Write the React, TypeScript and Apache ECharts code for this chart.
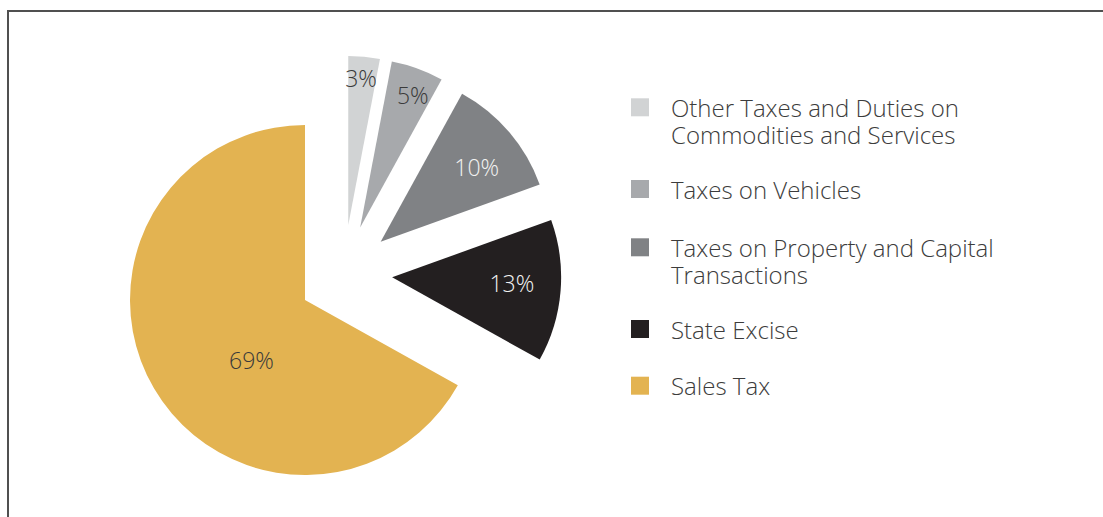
import React, { useEffect, useRef } from "react";
import * as echarts from "echarts";

// ---- data ----
const categories = [
  "Other Taxes and Duties on Commodities and Services",
  "Taxes on Vehicles",
  "Taxes on Property and Capital Transactions",
  "State Excise",
  "Sales Tax",
];
const legendLabels = [
  "Other Taxes and Duties on\nCommodities and Services",
  "Taxes on Vehicles",
  "Taxes on Property and Capital\nTransactions",
  "State Excise",
  "Sales Tax",
];
// share of the circle each slice occupies as drawn
const shares = [3.0, 5.0, 11.5, 13.6, 66.9];
// percentages printed on the slices
const printedLabels = ["3%", "5%", "10%", "13%", "69%"];
// which slices are pulled out of the pie
const exploded = [true, true, true, true, false];

// ---- styles / layout ----
const colors = ["#D1D3D4", "#A7A9AC", "#808285", "#231F20", "#E3B351"];
const labelColors = ["#3a3a3a", "#3a3a3a", "#f2f2f2", "#f2f2f2", "#3a3a3a"];
const labelOffsets = [
  [4.5, -60],
  [23, -50.5],
  [29.5, -18],
  [32.5, -1.5],
  [24.5, 14],
];
const MAIN_CENTER = [305, 300];
const MAIN_R = 175;
const GROUP_CENTER = [343.7, 273.3];
const GROUP_R = 169;
const SLICE_OFFSET = 48.6;
const LEGEND_LEFT = 631;
const legendIconTops = [98.3, 180, 238.3, 320, 376.7];
const LEGEND_LINE = 27;
const FONT = "'Open Sans', 'Noto Sans', sans-serif";
const TEXT_COLOR = "#3c3c3c";

export default function App() {
  const ref = useRef<HTMLDivElement>(null);

  useEffect(() => {
    if (!ref.current) return;
    const chart = echarts.init(ref.current, undefined, { renderer: "svg" });

    const label = (i: number) => ({
      show: true,
      position: "inside",
      formatter: () => printedLabels[i],
      color: labelColors[i],
      fontFamily: FONT,
      fontWeight: 300,
      fontSize: 23,
    });

    const shiftLabel = (p: any) => ({
      dx: labelOffsets[p.dataIndex][0],
      dy: labelOffsets[p.dataIndex][1],
    });

    const mainData = categories.map((name, i) => ({
      name,
      value: shares[i],
      itemStyle: { color: exploded[i] ? "transparent" : colors[i] },
      label: exploded[i] ? { show: false } : label(i),
    }));

    const groupData = categories.map((name, i) => ({
      name,
      value: shares[i],
      selected: exploded[i],
      itemStyle: { color: exploded[i] ? colors[i] : "transparent" },
      label: exploded[i] ? label(i) : { show: false },
    }));

    const legends = categories.map((name, i) => {
      const lines = legendLabels[i].split("\n").length;
      // a leading blank line keeps the first text line level with the icon
      const text = lines > 1 ? "\n" + legendLabels[i] : legendLabels[i];
      const blockLines = lines > 1 ? lines + 1 : 1;
      return {
        show: true,
        orient: "vertical",
        left: LEGEND_LEFT,
        top: legendIconTops[i] + 9 - (blockLines * LEGEND_LINE) / 2,
        padding: 0,
        itemWidth: 18,
        itemHeight: 18,
        selectedMode: false,
        data: [{ name, icon: "rect", itemStyle: { color: colors[i] } }],
        formatter: () => text,
        textStyle: {
          fontFamily: FONT,
          fontWeight: 300,
          fontSize: 24,
          lineHeight: LEGEND_LINE,
          color: TEXT_COLOR,
          padding: [0, 0, 0, 17],
        },
      };
    });

    chart.setOption({
      animation: false,
      backgroundColor: "#ffffff",
      legend: legends,
      graphic: [
        {
          type: "line",
          shape: { x1: 7, y1: 11, x2: 1103, y2: 11 },
          style: { stroke: "#505050", lineWidth: 2 },
          silent: true,
        },
        {
          type: "line",
          shape: { x1: 8, y1: 10, x2: 8, y2: 517 },
          style: { stroke: "#505050", lineWidth: 2 },
          silent: true,
        },
      ],
      series: [
        {
          name: "main",
          type: "pie",
          center: MAIN_CENTER,
          radius: MAIN_R,
          startAngle: 90,
          clockwise: true,
          avoidLabelOverlap: false,
          silent: true,
          labelLine: { show: false },
          labelLayout: shiftLabel,
          emphasis: { disabled: true },
          data: mainData,
        },
        {
          name: "exploded",
          type: "pie",
          center: GROUP_CENTER,
          radius: GROUP_R,
          startAngle: 90,
          clockwise: true,
          avoidLabelOverlap: false,
          selectedMode: "multiple",
          selectedOffset: SLICE_OFFSET,
          labelLine: { show: false },
          labelLayout: shiftLabel,
          emphasis: { disabled: true },
          data: groupData,
        },
      ],
    });

    return () => chart.dispose();
  }, []);

  return (
    <div
      ref={ref}
      style={{ position: "fixed", left: 0, top: 0, width: 1103, height: 517 }}
    />
  );
}
